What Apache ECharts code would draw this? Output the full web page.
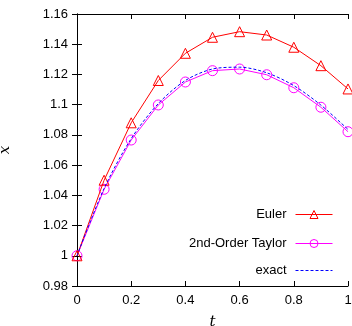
<!DOCTYPE html>
<html>
<head>
<meta charset="utf-8">
<script src="https://cdn.jsdelivr.net/npm/echarts@6/dist/echarts.min.js"></script>
<style>html,body{margin:0;padding:0;background:#fff;}#c{width:352px;height:326px;}</style>
</head>
<body>
<div id="c"></div>
<script>
var tValues = [0, 0.1, 0.2, 0.3, 0.4, 0.5, 0.6, 0.7, 0.8, 0.9, 1.0];
var eulerValues = [1, 1.050, 1.088, 1.116, 1.134, 1.1446, 1.1483, 1.1461, 1.138, 1.1258, 1.1104];
var taylorValues = [1, 1.044, 1.0766, 1.0998, 1.115, 1.1225, 1.1236, 1.1198, 1.1112, 1.0983, 1.0821];
var exactValues = [1, 1.0445, 1.0775, 1.1007, 1.1160, 1.1236, 1.1248, 1.1211, 1.1126, 1.0997, 1.0836];
var seriesNames = ['Euler', '2nd-Order Taylor', 'exact'];
var seriesColors = ['#ff0000', '#ff00ff', '#0000ff'];

function pairs(ys) { return tValues.map(function (t, i) { return [t, ys[i]]; }); }

var chart = echarts.init(document.getElementById('c'), null, {renderer: 'canvas'});
var font = 'Liberation Sans, Arial, sans-serif';
var axisCommon = {
  axisLine: {show: true, lineStyle: {color: '#000', width: 1}},
  axisTick: {show: true, inside: true, length: 5, lineStyle: {color: '#000'}},
  splitLine: {show: false}
};
var legendTops = [208, 237, 264];
function makeLegend(i, extraItem) {
  var item = {name: seriesNames[i]};
  if (extraItem) { Object.assign(item, extraItem); }
  return {
    orient: 'vertical', right: 19, top: legendTops[i], align: 'right', padding: 0,
    itemWidth: 37, itemHeight: 10,
    lineStyle: {color: seriesColors[i], width: 1},
    itemStyle: {borderWidth: 1},
    textStyle: {color: '#000', fontFamily: font, fontSize: 13, padding: [0, 4, 0, 0]},
    data: [item]
  };
}
chart.setOption({
  animation: false,
  grid: {left: 77, right: 4, top: 14, bottom: 40, containLabel: false, outerBoundsMode: 'none'},
  xAxis: [
    Object.assign({}, axisCommon, {
      type: 'value', min: 0, max: 1, interval: 0.2, position: 'bottom',
      name: 't', nameLocation: 'middle', nameGap: 29,
      nameTextStyle: {fontFamily: 'DejaVu Serif, Liberation Serif, serif', fontStyle: 'italic', fontSize: 15, color: '#000'},
      axisLabel: {color: '#000', fontFamily: font, fontSize: 13, margin: 8,
        formatter: function (v) { return String(parseFloat(v.toFixed(2))); }}
    }),
    Object.assign({}, axisCommon, {
      type: 'value', min: 0, max: 1, interval: 0.2, position: 'top',
      axisLabel: {show: false}
    })
  ],
  yAxis: [
    Object.assign({}, axisCommon, {
      type: 'value', min: 0.98, max: 1.16, interval: 0.02, position: 'left',
      name: 'x', nameLocation: 'middle', nameGap: 64,
      nameTextStyle: {fontFamily: 'DejaVu Serif, Liberation Serif, serif', fontStyle: 'italic', fontSize: 15, color: '#000'},
      axisLabel: {color: '#000', fontFamily: font, fontSize: 13, margin: 9,
        formatter: function (v) { return String(parseFloat(v.toFixed(2))); }}
    }),
    Object.assign({}, axisCommon, {
      type: 'value', min: 0.98, max: 1.16, interval: 0.02, position: 'right',
      axisLabel: {show: false}
    })
  ],
  legend: [
    makeLegend(0),
    makeLegend(1),
    makeLegend(2, {itemStyle: {color: 'rgba(0,0,0,0)', borderColor: 'rgba(0,0,0,0)'}})
  ],
  series: [
    {
      name: seriesNames[0], type: 'line', data: pairs(eulerValues),
      symbol: 'triangle', symbolSize: 10, showAllSymbol: true,
      lineStyle: {color: seriesColors[0], width: 1},
      itemStyle: {color: 'rgba(255,255,255,0)', borderColor: seriesColors[0], borderWidth: 1},
      z: 3
    },
    {
      name: seriesNames[1], type: 'line', data: pairs(taylorValues),
      symbol: 'circle', symbolSize: 10, showAllSymbol: true,
      lineStyle: {color: seriesColors[1], width: 1},
      itemStyle: {color: 'rgba(255,255,255,0)', borderColor: seriesColors[1], borderWidth: 1},
      z: 2
    },
    {
      name: seriesNames[2], type: 'line', data: pairs(exactValues),
      symbol: 'circle', showSymbol: false, smooth: 0.3,
      lineStyle: {color: seriesColors[2], width: 1, type: [3, 2]},
      itemStyle: {color: seriesColors[2]},
      z: 4
    }
  ]
});
</script>
</body>
</html>
